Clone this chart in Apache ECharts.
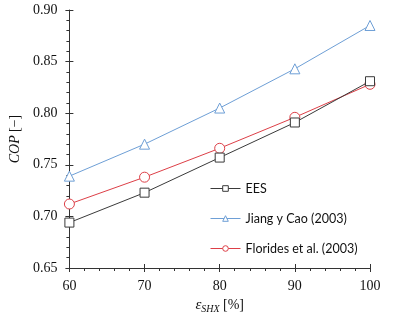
<!DOCTYPE html>
<html>
<head>
<meta charset="utf-8">
<script src="https://cdn.jsdelivr.net/npm/echarts@6/dist/echarts.min.js"></script>
<style>
  html, body { margin: 0; padding: 0; background: #fff; }
  #chart_container { width: 393px; height: 320px; }
</style>
</head>
<body>
<div id="chart_container"></div>
<script>
"use strict";

// effectiveness of solution heat exchanger [%]
const effSHX = [60, 70, 80, 90, 100];

const copEES = [0.694, 0.723, 0.757, 0.791, 0.831];
const copJiang = [0.739, 0.770, 0.805, 0.843, 0.885];
const copFlorides = [0.712, 0.738, 0.766, 0.796, 0.828];

const seriesNames = ["EES", "Jiang y Cao (2003)", "Florides et al. (2003)"];

let pair = (ys) => effSHX.map((x, i) => [x, ys[i]]);

let pageLoaded = () => {
    let chartDom = document.getElementById('chart_container');
    let myChart = echarts.init(chartDom, null, { renderer: 'canvas' });

    const tickFont = { fontFamily: 'Liberation Serif', fontSize: 14, color: '#111' };
    const axLine = { show: true, lineStyle: { color: '#333', width: 1 } };

    // second axis of each pair only adds the inward half of major ticks
    let optEchart = {
        animation: false,
        backgroundColor: '#fff',
        grid: { left: 58, right: 23, top: 10, bottom: 52 },
        legend: {
            data: seriesNames,
            orient: 'vertical',
            left: 205,
            top: 177,
            itemWidth: 30,
            itemHeight: 7,
            itemGap: 17,
            itemStyle: { borderWidth: 1 },
            lineStyle: { width: 1 },
            textStyle: { fontFamily: 'Lato', fontSize: 12.5, color: '#111' }
        },
        xAxis: [{
            type: 'value', min: 60, max: 100, interval: 10,
            axisLine: axLine,
            axisTick: { show: true, inside: false, length: 4, lineStyle: { color: '#333' } },
            minorTick: { show: true, splitNumber: 5, length: 3, lineStyle: { color: '#333' } },
            splitLine: { show: false },
            axisLabel: Object.assign({ margin: 11 }, tickFont),
            name: '{e|ε}{s|SHX} {n|[%]}',
            nameLocation: 'middle',
            nameGap: 27,
            nameTextStyle: {
                rich: {
                    e: { fontFamily: 'Liberation Serif', fontStyle: 'italic', fontSize: 15, color: '#111' },
                    s: { fontFamily: 'Liberation Serif', fontStyle: 'italic', fontSize: 10, color: '#111', verticalAlign: 'bottom', padding: [7, 0, 0, 0] },
                    n: { fontFamily: 'Liberation Serif', fontSize: 14, color: '#111' }
                }
            }
        }, {
            type: 'value', min: 60, max: 100, interval: 10, position: 'bottom',
            axisLine: { show: false },
            axisTick: { show: true, inside: true, length: 4, lineStyle: { color: '#333' } },
            splitLine: { show: false },
            axisLabel: { show: false }
        }],
        yAxis: [{
            type: 'value', min: 0.65, max: 0.90, interval: 0.05,
            axisLine: axLine,
            axisTick: { show: true, inside: false, length: 4, lineStyle: { color: '#333' } },
            minorTick: { show: true, splitNumber: 5, length: 3, lineStyle: { color: '#333' } },
            splitLine: { show: false },
            axisLabel: Object.assign({ margin: 12, formatter: (v) => v.toFixed(2) }, tickFont),
            name: '{i|COP} {n|[−]}',
            nameLocation: 'middle',
            nameRotate: 90,
            nameGap: 43,
            nameTextStyle: {
                rich: {
                    i: { fontFamily: 'Liberation Serif', fontStyle: 'italic', fontSize: 14, color: '#111' },
                    n: { fontFamily: 'Liberation Serif', fontSize: 14, color: '#111' }
                }
            }
        }, {
            type: 'value', min: 0.65, max: 0.90, interval: 0.05, position: 'left',
            axisLine: { show: false },
            axisTick: { show: true, inside: true, length: 4, lineStyle: { color: '#333' } },
            splitLine: { show: false },
            axisLabel: { show: false }
        }],
        series: [{
            name: seriesNames[0], type: 'line', data: pair(copEES),
            symbol: 'rect', symbolSize: 9, z: 4,
            lineStyle: { color: '#3a3a3a', width: 1 },
            itemStyle: { color: '#fff', borderColor: '#3a3a3a', borderWidth: 1 }
        }, {
            name: seriesNames[1], type: 'line', data: pair(copJiang),
            symbol: 'triangle', symbolSize: 10, z: 3,
            lineStyle: { color: '#6e9fd6', width: 1 },
            itemStyle: { color: '#fff', borderColor: '#6e9fd6', borderWidth: 1 }
        }, {
            name: seriesNames[2], type: 'line', data: pair(copFlorides),
            symbol: 'circle', symbolSize: 10, z: 3,
            lineStyle: { color: '#dd3f47', width: 1 },
            itemStyle: { color: '#fff', borderColor: '#dd3f47', borderWidth: 1 }
        }]
    };

    optEchart && myChart.setOption(optEchart);
    console.log(`echart config and creation complete`);
};

window.addEventListener('load', pageLoaded, false);
</script>
</body>
</html>
